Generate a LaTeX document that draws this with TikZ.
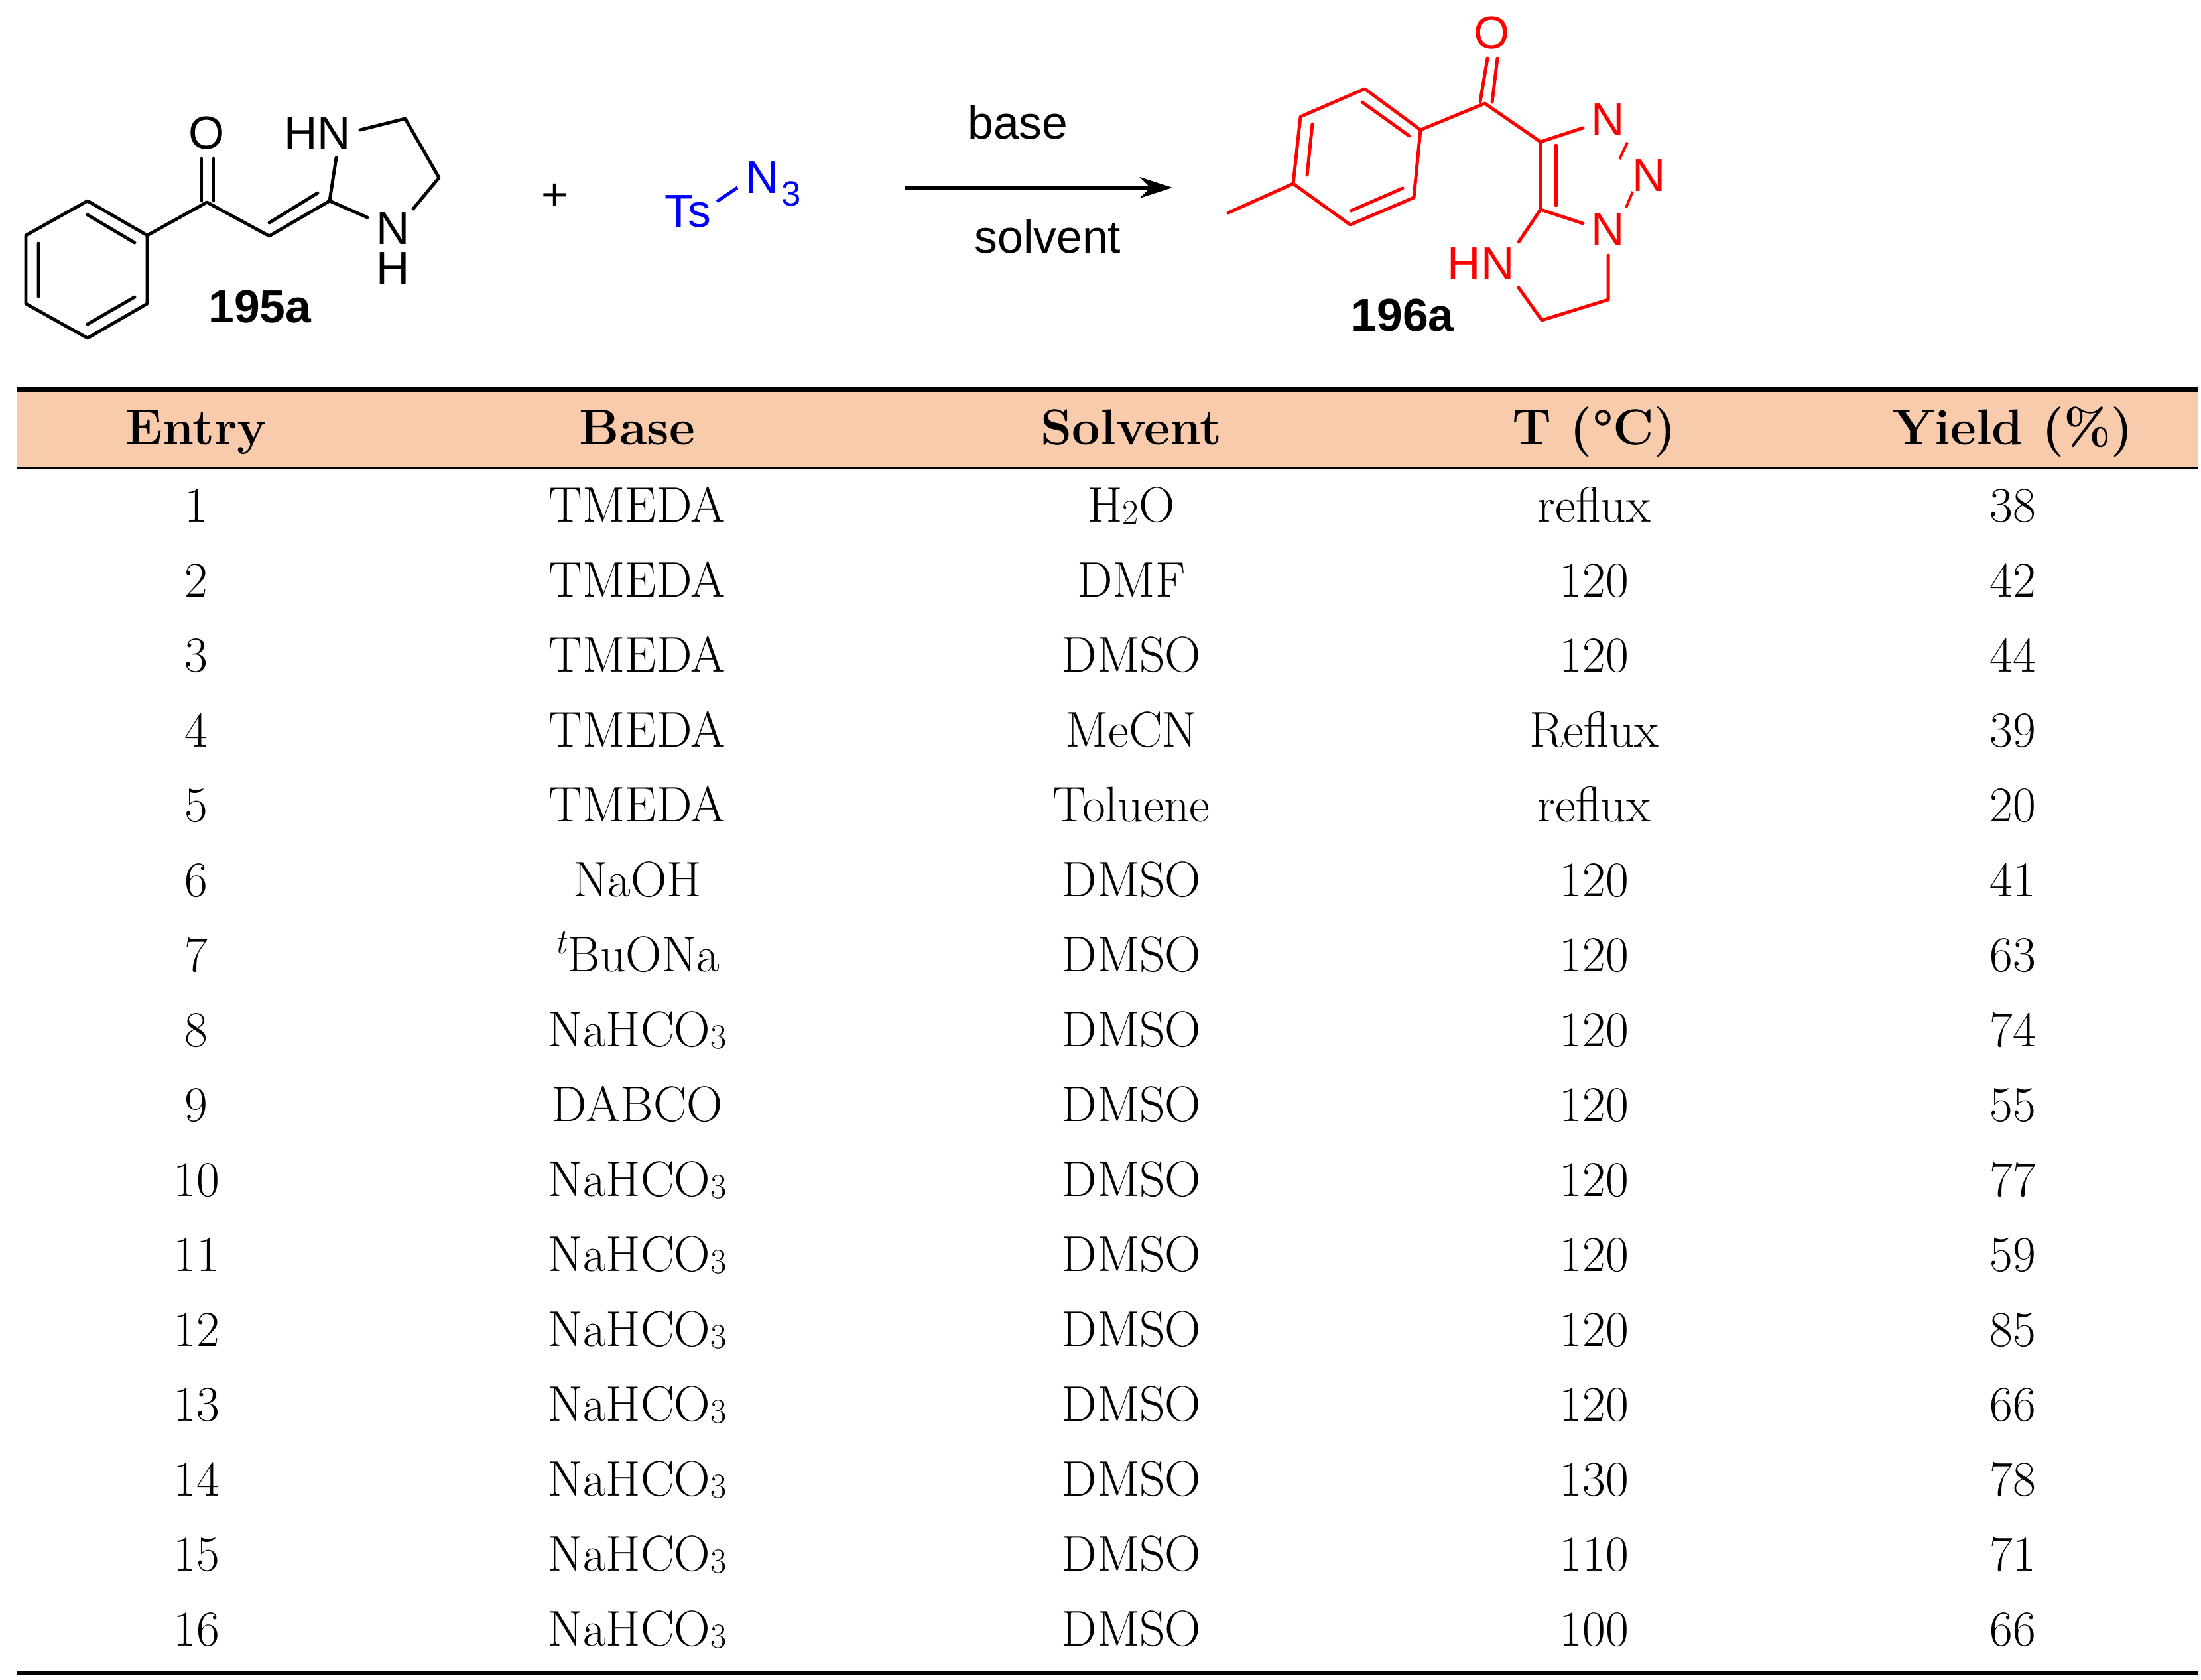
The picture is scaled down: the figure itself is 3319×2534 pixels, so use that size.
\documentclass[tikz,border=0pt]{standalone}
\usepackage{fontspec}
\setmainfont{Latin Modern Roman}
\newfontfamily\chem{Liberation Sans}
\usetikzlibrary{arrows.meta}
\definecolor{hdr}{RGB}{247,203,172}
\begin{document}
\begin{tikzpicture}[x=0.01cm,y=-0.01cm,
  bond/.style={line width=1.4pt,line cap=round,line join=round},
  atom/.style={font=\chem\fontsize{19.8}{20}\selectfont,inner sep=0pt},
  lbl/.style={font=\chem\bfseries\fontsize{19.8}{20}\selectfont,inner sep=0pt},
  cell/.style={font=\fontsize{21.5}{22}\selectfont,inner sep=0pt,anchor=base},
  hcell/.style={font=\bfseries\fontsize{21.5}{22}\selectfont,inner sep=0pt,anchor=base}]
\useasboundingbox (0,0) rectangle (3319,2534);
% ---- 195a
\draw[bond] (132,303)--(222,355)--(222,458)--(132,510)--(39,458)--(39,355)--cycle;
\draw[bond] (132,324)--(203,366) (203,448)--(132,489) (58,367)--(58,447);
\draw[bond] (222,355)--(312,305)--(406,356)--(497,303);
\draw[bond] (406,336)--(479,291);
\draw[bond] (304,239)--(304,303) (322,239)--(322,303);
\node[atom] (o1) at (312,201) {O};
\node[atom] (hn1) at (479,201) {HN};
\node[atom] (n1) at (593,345) {N};
\node[atom] (h1) at (593,405) {H};
\draw[bond] (497,303)--(507,238) (543,196)--(611,179)--(662,268)--(623,315) (497,303)--(554,328);
\node[lbl] (c195) at (392,463) {195a};
\node[atom] (plus) at (837,297) {+};
\node[atom,text=blue] (ts) at (1037,319) {Ts};
\node[atom,text=blue] (n3) at (1150,268) {N};
\node[atom,text=blue,font=\chem\fontsize{15}{15}\selectfont] (sub3) at (1193,292) {3};
\draw[line width=1.4pt,blue] (1081,304)--(1112,283);
% ---- arrow
\coordinate (a1) at (1364,283); \coordinate (a2) at (1768,283);
\draw[line width=1.6pt,-{Stealth[length=14pt,width=9pt]}] (a1)--(a2);
\node[atom] (base) at (1535,185) {base};
\node[atom] (solv) at (1580,357) {solvent};
% ---- 196a
\begin{scope}[red]
\draw[bond] (1852,321)--(1950,277);
\draw[bond] (1950,277)--(1961,176)--(2058,134)--(2142,196)--(2132,298)--(2036,339)--cycle;
\draw[bond] (2054,154)--(2125,205) (1979,187)--(1971,264) (2115,284)--(2037,318);
\draw[bond] (2142,196)--(2239,156)--(2323,214);
\draw[bond] (2232,153)--(2243,88) (2258,88)--(2250,154);
\node[atom,text=red] (o2) at (2250,50) {O};
\node[atom,text=red] (na) at (2425,181) {N};
\node[atom,text=red] (nb) at (2487,265) {N};
\node[atom,text=red] (nc) at (2425,346) {N};
\node[atom,text=red] (hn2) at (2233,398) {HN};
\draw[bond] (2323,214)--(2387,193);
\draw[line width=1.1pt] (2454,215)--(2442,240) (2462,289)--(2452,313);
\draw[bond] (2323,214)--(2323,316) (2346,219)--(2346,310);
\draw[bond] (2323,316)--(2387,337) (2323,316)--(2290,365);
\draw[bond] (2290,434)--(2325,483)--(2425,452)--(2425,385);
\end{scope}
\node[lbl] (c196) at (2115,476) {196a};
% ---- table
\fill[hdr] (26,591) rectangle (3314,706);
\draw[line width=2pt] (26,588)--(3314,588);
\draw[line width=1.3pt] (26,706)--(3314,706);
\draw[line width=2pt] (26,2523)--(3314,2523);
\foreach \t/\x in {Entry/296,Base/961,Solvent/1706,T (°C)/2404,Yield (\%)/3035}
  \node[hcell] at (\x,670) {\t};
\newcommand{\sbs}[1]{\raisebox{-0.1ex}{\fontsize{15}{15}\selectfont #1}}
\foreach [count=\i] \b/\s/\T/\y in {
 TMEDA/H\sbs{2}O/reflux/38, TMEDA/DMF/120/42, TMEDA/DMSO/120/44,
 TMEDA/MeCN/Reflux/39, TMEDA/Toluene/reflux/20, NaOH/DMSO/120/41,
 \textsuperscript{\itshape t}BuONa/DMSO/120/63, NaHCO\sbs{3}/DMSO/120/74,
 DABCO/DMSO/120/55, NaHCO\sbs{3}/DMSO/120/77, NaHCO\sbs{3}/DMSO/120/59,
 NaHCO\sbs{3}/DMSO/120/85, NaHCO\sbs{3}/DMSO/120/66, NaHCO\sbs{3}/DMSO/130/78,
 NaHCO\sbs{3}/DMSO/110/71, NaHCO\sbs{3}/DMSO/100/66}{
  \pgfmathsetmacro\yy{768+113*(\i-1)+19}
  \node[cell] at (296,\yy) {\i};
  \node[cell] at (961,\yy) {\b};
  \node[cell] at (1706,\yy) {\s};
  \node[cell] at (2404,\yy) {\T};
  \node[cell] at (3035,\yy) {\y};
}
\end{tikzpicture}
\end{document}
